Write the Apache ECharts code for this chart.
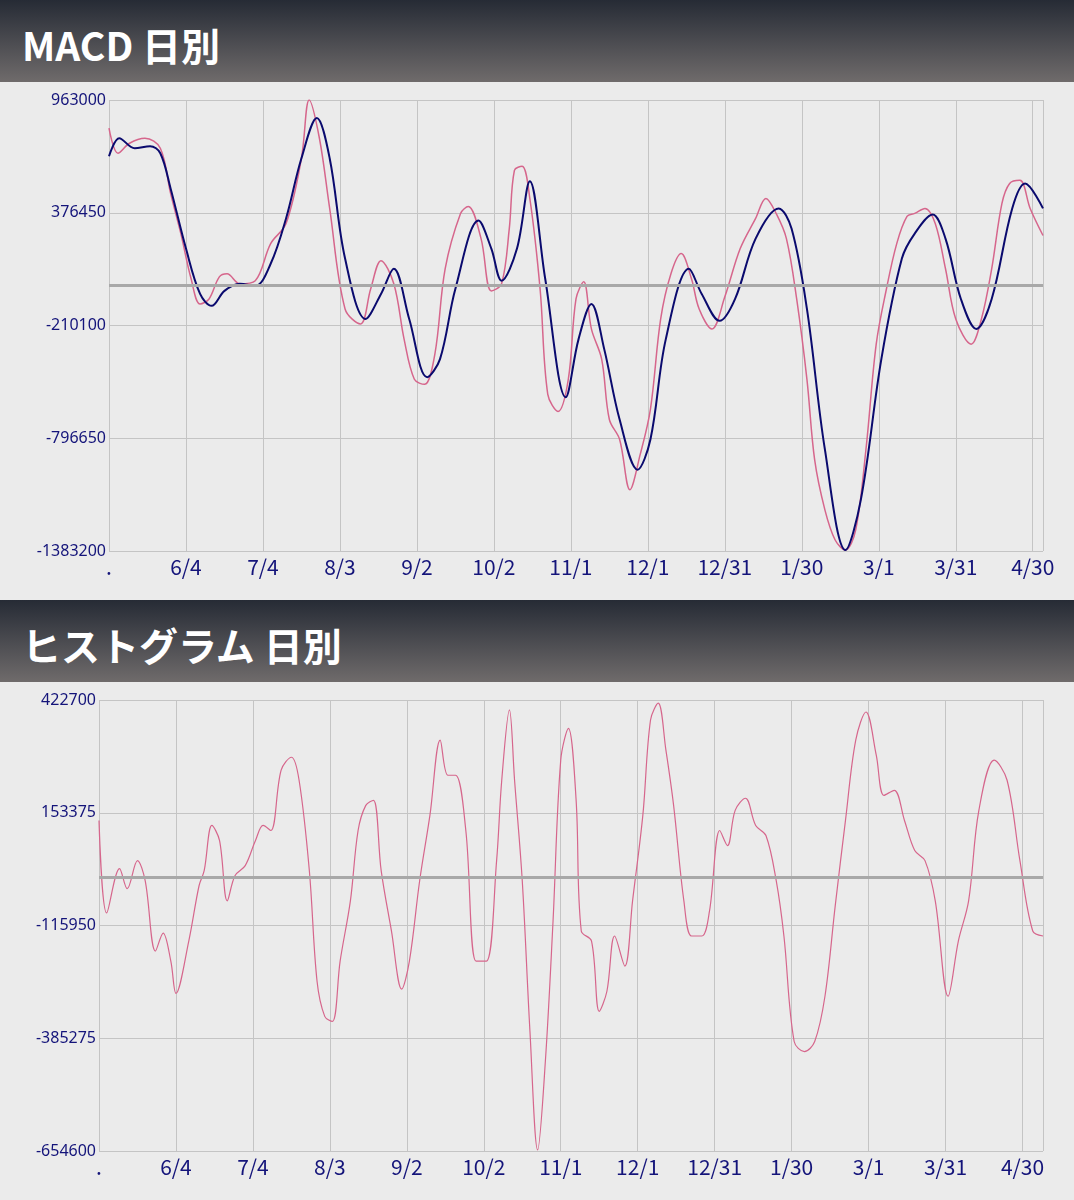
<!DOCTYPE html>
<html><head><meta charset="utf-8">
<script src="https://cdn.jsdelivr.net/npm/echarts@6/dist/echarts.min.js"></script>
<style>
body{margin:0;width:1074px;height:1200px;background:#ebebeb;font-family:"Noto Sans CJK JP",sans-serif;overflow:hidden}
.hd{height:82px;background:linear-gradient(#262b35,#6f6b6b);color:#fff;font-weight:bold;font-size:39px;line-height:88px;padding-left:22px;box-sizing:border-box}
.ch{width:1074px;height:518px;background:#ebebeb}
</style></head><body>
<div class="hd">MACD 日別</div><div id="c1" class="ch"></div>
<div class="hd">ヒストグラム 日別</div><div id="c2" class="ch"></div>
<script>
const xLabels = ['.', '6/4', '7/4', '8/3', '9/2', '10/2', '11/1', '12/1', '12/31', '1/30', '3/1', '3/31', '4/30'];

// MACD (thousands), by day index
const macdDays = [0,3.5,8,14,20,24,28,32,35.5,39,43,46,51,57,63,69,75,78,82,86,92,98,102,106,111,115,119,123,127,131,137,140,145,149,153,156,158,161,164,168,171,175,179,182,185,188,192,195,199,203,207,211,215,219,223,227,230,235,240,246,252,256,260,264,268,272,275,279,283,287,291,295,299,303,307,311,314,318,322,326,330,336,340,344,348,351,355,359,364];
const macdVals = [817,686,738,764,712,477,268,33,-98,-72,43,59,7,23,216,320,660,963,764,399,-124,-202,-19,127,7,-281,-490,-516,-359,85,373,409,242,-30,7,294,597,618,451,-19,-568,-657,-490,-72,17,-228,-385,-699,-803,-1064,-882,-646,-176,59,164,33,-124,-228,-61,190,347,451,373,242,-72,-490,-908,-1169,-1326,-1378,-1273,-855,-307,-19,216,357,373,399,320,85,-176,-307,-176,85,425,529,545,399,258];

// シグナル (thousands)
const sigDays = [0,4,10,16,20,24,30,35.5,40,45,51,57,63,69,75,81,86,92,100,106,111,117,124,129,135,144,149,153,159,164,170,178,183,188,193,199,206,211,217,226,231,238,244,252,261,266,272,279,287,293,301,309,314,321,326,332,338,344,352,357,364];
const sigVals = [670,764,712,723,686,503,190,-46,-108,-30,7,-4,111,347,660,869,660,138,-176,-46,85,-176,-479,-385,-19,336,190,23,190,540,33,-583,-281,-98,-333,-699,-960,-803,-281,85,-46,-186,-72,242,399,294,-124,-855,-1378,-1117,-385,138,268,367,242,-72,-228,-72,399,529,399];

// ヒストグラム (thousands)
const histDays = [0,3,8,11,15,18,22,25,28,30,35,39,41,44,47,50,53,57,61,64,67,71,75,78,82,85,88,91,94,98,101,104,107,110,114,118,121,125,129,133,136,139,143,147,151,155,157,160,162,165,168,171,174,177,180,183,186,188,192,195,198,201,205,208,212,215,218,221,224,228,231,235,238,242,245,248,252,256,260,264,267,271,275,279,283,287,291,295,299,303,306,310,314,318,322,326,331,335,339,343,349,354,359,364,368];
const histVals = [135,-86,20,-28,39,-9,-177,-134,-201,-278,-153,-21,15,123,87,-57,3,27,87,123,111,255,286,231,15,-249,-333,-345,-201,-57,111,171,183,15,-129,-268,-201,-9,147,327,243,243,111,-201,-201,39,231,399,231,-9,-369,-652,-441,-105,279,355,183,-129,-153,-321,-273,-141,-213,-57,147,375,415,303,171,-57,-141,-141,-81,111,75,159,188,123,99,-9,-141,-393,-417,-393,-285,-69,135,327,394,291,195,207,135,63,39,-57,-285,-153,-57,159,279,231,39,-129,-141];

const PINK = '#d6668c', NAVY = '#0a0a6e', LAB = '#14147a';

function pairs(days, vals, base) { return days.map((d, i) => [d, vals[i] * 1000 - base]); }

function draw(id, left, xmax, ymin, ymax, series) {
  const chart = echarts.init(document.getElementById(id));
  const step = (ymax - ymin) / 4;
  chart.setOption({
    animation: false,
    grid: { left: left, right: 31, top: 18, bottom: 49 },
    xAxis: {
      type: 'value', min: 0, max: xmax, interval: 30,
      axisLine: { show: false }, axisTick: { show: false },
      splitLine: { lineStyle: { color: '#c4c4c4' } },
      axisLabel: {
        color: LAB, fontSize: 21, fontFamily: 'Noto Sans CJK JP', margin: 6,
        formatter: v => xLabels[Math.round(v / 30)] ?? ''
      }
    },
    yAxis: {
      type: 'value', min: 0, max: ymax - ymin, interval: step,
      axisLine: { show: false }, axisTick: { show: false },
      splitLine: { lineStyle: { color: '#c4c4c4' } },
      axisLabel: { color: LAB, fontSize: 16, fontFamily: 'Noto Sans', margin: 3,
        formatter: v => String(Math.round(v + ymin)) }
    },
    series: series.map((s, i) => ({
      type: 'line', data: pairs(s.days, s.vals, ymin), smooth: 0.35, symbol: 'none',
      lineStyle: { color: s.color, width: s.width }, z: 3 + i,
      markLine: i === 0 ? { silent: true, symbol: 'none', label: { show: false },
        lineStyle: { color: '#a8a8a8', width: 3, type: 'solid' }, data: [{ yAxis: -ymin }] } : undefined
    }))
  });
}

draw('c1', 109, 364, -1383200, 963000, [
  { days: macdDays, vals: macdVals, color: PINK, width: 1.5 },
  { days: sigDays, vals: sigVals, color: NAVY, width: 2 }
]);
draw('c2', 99, 368, -654600, 422700, [
  { days: histDays, vals: histVals, color: PINK, width: 1.2 }
]);
</script></body></html>
